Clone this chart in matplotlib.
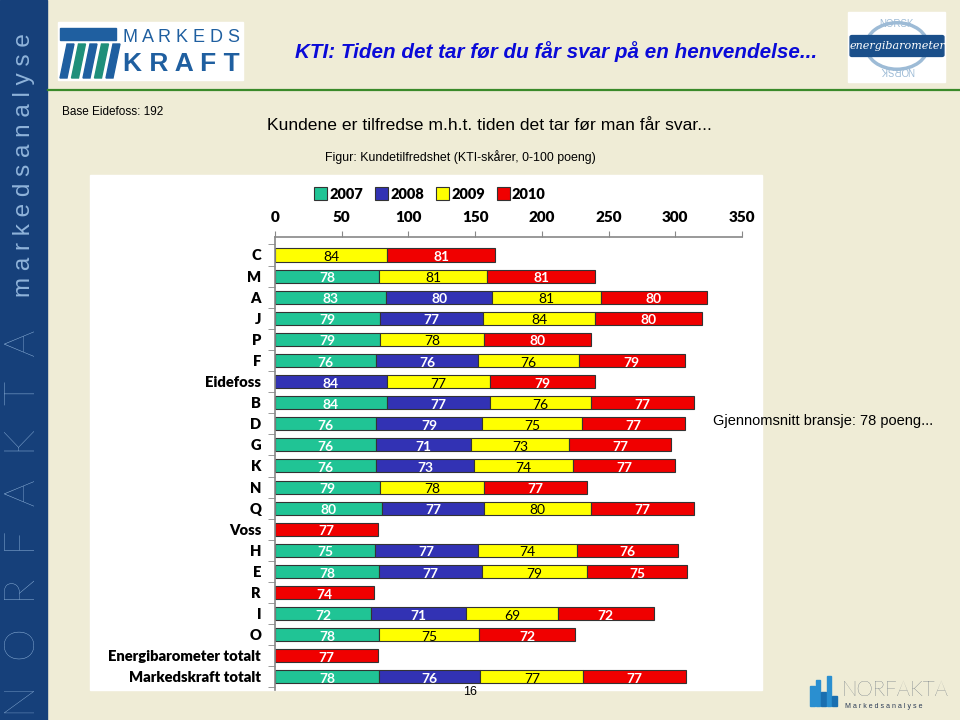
import numpy as np
import matplotlib
matplotlib.use('Agg')
import matplotlib.pyplot as plt
from matplotlib.patches import Rectangle, Polygon, Circle, FancyBboxPatch

W, H = 960, 720
nan = np.nan

categories = ['C', 'M', 'A', 'J', 'P', 'F', 'Eidefoss', 'B', 'D', 'G', 'K', 'N', 'Q',
              'Voss', 'H', 'E', 'R', 'I', 'O', 'Energibarometer totalt', 'Markedskraft totalt']
y2007 = [nan, 78, 83, 79, 79, 76, nan, 84, 76, 76, 76, 79, 80, nan, 75, 78, nan, 72, 78, nan, 78]
y2008 = [nan, nan, 80, 77, nan, 76, 84, 77, 79, 71, 73, nan, 77, nan, 77, 77, nan, 71, nan, nan, 76]
y2009 = [84, 81, 81, 84, 78, 76, 77, 76, 75, 73, 74, 78, 80, nan, 74, 79, nan, 69, 75, nan, 77]
y2010 = [81, 81, 80, 80, 80, 79, 79, 77, 77, 77, 77, 77, 77, 77, 76, 75, 74, 72, 72, 77, 77]
years = ['2007', '2008', '2009', '2010']
xticks = [0, 50, 100, 150, 200, 250, 300, 350]

colors = ['#20c495', '#3232b4', '#ffff00', '#f00000']
txt_colors = ['white', 'white', 'black', 'white']
txt_weights = ['bold', 'bold', 'normal', 'bold']

BG = '#efecd6'
STRIP = '#16407a'
SANS = ['Liberation Sans', 'DejaVu Sans']
CHART = ['Lato', 'DejaVu Sans']


def fx(x):
    return x / W


def fy(y):
    return 1 - y / H


fig = plt.figure(figsize=(9.6, 7.2), dpi=100, facecolor=BG)
T = fig.transFigure

# left blue strip
fig.patches.append(Rectangle((0, 0), fx(47), 1, transform=T, color=STRIP, zorder=0))
fig.text(fx(24), fy(165), 'm a r k e d s a n a l y s e', rotation=90, ha='center', va='center',
         color='#8fb3da', fontsize=17.5, family=SANS)
fig.text(fx(24), fy(523), 'N  O  R  F  A  K  T  A', rotation=90, ha='center', va='center',
         color='#8fb3da', fontsize=30.5, family=['Lato', 'DejaVu Sans'], fontweight='light')

# green rule
fig.add_artist(plt.Line2D([fx(48), 1], [fy(90), fy(90)], transform=T, color='#3a8a2a', lw=1.6))

# Markeds Kraft logo
fig.patches.append(Rectangle((fx(58), fy(80)), fx(185), 58 / H, transform=T, color='white', zorder=1))
fig.patches.append(Rectangle((fx(60), fy(40)), fx(56), 12 / H, transform=T, color='#1f5fa0', zorder=2))
for i in range(5):
    x0 = 60 + i * 11.5
    fig.patches.append(Polygon([(fx(x0), fy(78)), (fx(x0 + 7), fy(78)), (fx(x0 + 14), fy(44)),
                                (fx(x0 + 7), fy(44))], closed=True, transform=T,
                               color='#1f8f7a' if i % 2 else '#1f5fa0', zorder=2))
fig.text(fx(123), fy(38), 'M A R K E D S', ha='left', va='center', color='#1f5fa0', fontsize=13,
         family=SANS, zorder=3)
fig.text(fx(123), fy(64), 'K R A F T', ha='left', va='center', color='#1f5fa0', fontsize=19,
         family=SANS, fontweight='bold', zorder=3)

# energibarometer logo
fig.patches.append(Rectangle((fx(848), fy(82)), fx(97), 70 / H, transform=T, color='white', zorder=1))
fig.patches.append(Circle((fx(897), fy(46)), 31 / W, transform=T, fill=False, ec='#9dbbd6', lw=2.5, zorder=2))
fig.patches.append(FancyBboxPatch((fx(852), fy(55)), fx(90), 18 / H, boxstyle='round,pad=0.002',
                                  transform=T, color='#1a4f8a', zorder=3))
fig.text(fx(897), fy(46), 'energibarometer', ha='center', va='center', color='white', fontsize=8,
         family=['DejaVu Serif'], style='italic', zorder=4)
fig.text(fx(897), fy(24), 'NORSK', ha='center', va='center', color='#9dbbd6', fontsize=7, family=SANS, zorder=4)
fig.text(fx(897), fy(70), 'NORSK', ha='center', va='center', color='#9dbbd6', fontsize=7, family=SANS,
         rotation=180, zorder=4)

# titles
fig.text(fx(295), fy(52), 'KTI: Tiden det tar før du får svar på en henvendelse...', ha='left', va='center',
         color='#0a0ad8', fontsize=14.9, family=SANS, fontweight='bold', style='italic')
fig.text(fx(62), fy(112), 'Base Eidefoss: 192', ha='left', va='center', fontsize=8.5, family=SANS)
fig.text(fx(267), fy(125), 'Kundene er tilfredse m.h.t. tiden det tar før man får svar...', ha='left',
         va='center', fontsize=12.6, family=SANS)
fig.text(fx(325), fy(157), 'Figur: Kundetilfredshet (KTI-skårer, 0-100 poeng)', ha='left', va='center',
         fontsize=8.9, family=SANS)
fig.text(fx(470), fy(692), '16', ha='center', va='center', fontsize=9, family=SANS)

# white chart area
fig.patches.append(Rectangle((fx(90), fy(690)), fx(672), 515 / H, transform=T, color='white', zorder=1))

fig.text(fx(713), fy(421), 'Gjennomsnitt bransje: 78 poeng...', ha='left', va='center', fontsize=10.5,
         family=SANS, zorder=5)

# Norfakta logo bottom right
for i, (h, c) in enumerate([(20, '#2a8fd0'), (26, '#2a8fd0'), (14, '#1a6fb0'), (30, '#2a8fd0'), (10, '#1a6fb0')]):
    fig.patches.append(Rectangle((fx(810 + i * 5.6), fy(706)), fx(4.6), h / H, transform=T, color=c, zorder=2))
fig.text(fx(842), fy(690), 'NORFAKTA', ha='left', va='center', fontsize=15, family=['Lato', 'DejaVu Sans'],
         fontweight='light', color='#2a3a55')
fig.text(fx(845), fy(706), 'M a r k e d s a n a l y s e', ha='left', va='center', fontsize=5,
         family=SANS, color='#2a3a55')

# chart
ax = fig.add_axes([fx(275), fy(690), fx(467), (690 - 237) / H], facecolor='none', zorder=4)
series = [y2007, y2008, y2009, y2010]
ypos = np.arange(len(categories))
left = np.zeros(len(categories))
handles = []
for vals, col, tc, tw, yr in zip(series, colors, txt_colors, txt_weights, years):
    v = np.array(vals, dtype=float)
    mask = ~np.isnan(v)
    bars = ax.barh(ypos[mask], v[mask], left=left[mask], height=0.62, color=col,
                   edgecolor='#333333', linewidth=0.8, label=yr)
    handles.append(bars)
    for yy, ll, vv in zip(ypos[mask], left[mask], v[mask]):
        ax.text(ll + vv / 2, yy + 0.1, f'{vv:.0f}', ha='center', va='center', color=tc,
                fontsize=10, fontweight=tw, family=CHART)
    left[mask] += v[mask]

ax.set_xlim(0, 350)
ax.set_ylim(20.62, -0.853)
ax.xaxis.tick_top()
ax.set_xticks(xticks)
ax.set_xticklabels([str(t) for t in xticks], fontsize=11, fontweight='heavy', family=CHART)
ax.tick_params(axis='x', direction='out', length=4, color='#888888', pad=5)
ax.set_yticks(ypos)
ax.set_yticklabels(categories, fontsize=10.6, fontweight='heavy', family=CHART)
ax.tick_params(axis='y', length=0, pad=10)
ax.set_yticks(np.arange(-0.5, 20.6, 1), minor=True)
ax.tick_params(axis='y', which='minor', length=5, color='#888888', direction='out')
for s in ['right', 'bottom']:
    ax.spines[s].set_visible(False)
for s in ['top', 'left']:
    ax.spines[s].set_color('#888888')
    ax.spines[s].set_linewidth(1.2)

fig.legend(handles, years, loc='center', bbox_to_anchor=(fx(430), fy(194)), ncol=4, frameon=False,
           prop=dict(family=CHART, weight='heavy', size=10.5), handlelength=0.9, handleheight=0.9,
           handletextpad=0.15, columnspacing=0.8)

fig.savefig('out.png', dpi=100, facecolor=BG)
